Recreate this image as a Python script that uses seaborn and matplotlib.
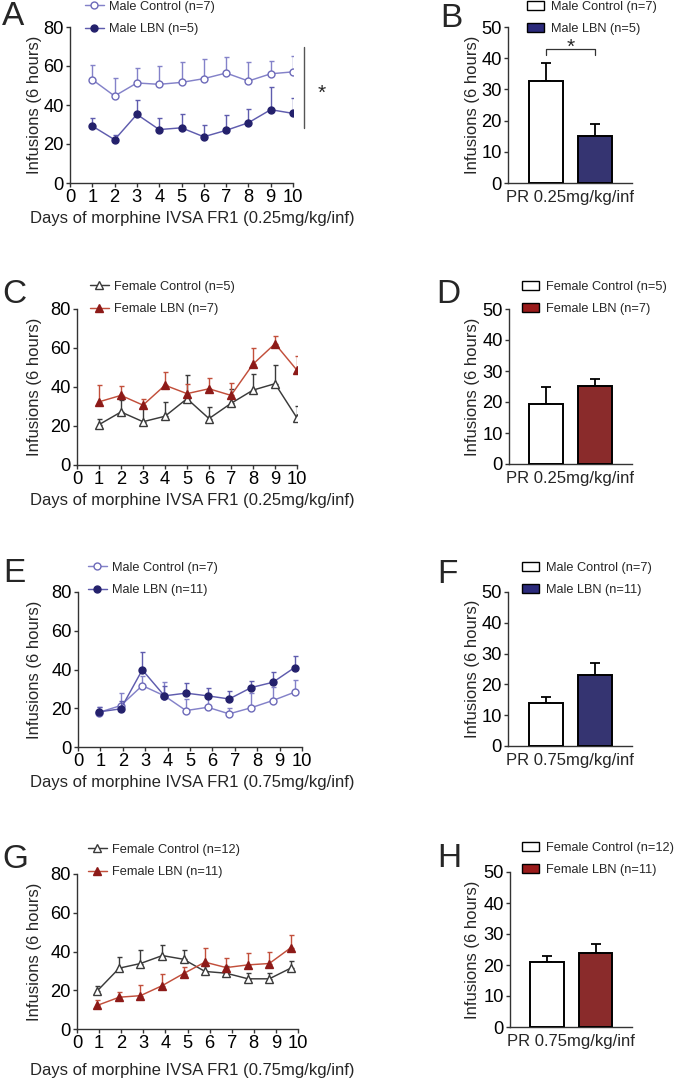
import numpy as np
import pandas as pd
import matplotlib
matplotlib.use("Agg")
import matplotlib.pyplot as plt
import seaborn as sns
from matplotlib.lines import Line2D
from matplotlib.patches import Patch

# ---------------- data ----------------
days = [1, 2, 3, 4, 5, 6, 7, 8, 9, 10]
days_shift = [0.92, 1.91, 2.87, 3.86, 4.82, 5.79, 6.75, 7.74, 8.70, 9.67]
day_ticks = [0, 1, 2, 3, 4, 5, 6, 7, 8, 9, 10]

a_ctrl = [53.0, 44.6, 51.3, 50.6, 51.6, 53.5, 56.4, 52.3, 56.0, 57.0]
a_ctrl_sem = [7.5, 9.0, 7.7, 9.4, 10.2, 10.0, 8.2, 10.0, 6.4, 8.0]
a_lbn = [29.2, 22.2, 35.2, 27.4, 28.3, 23.7, 27.0, 30.9, 37.6, 35.7]
a_lbn_sem = [4.3, 2.4, 7.5, 5.8, 7.1, 5.9, 7.7, 7.1, 11.6, 8.1]

c_ctrl = [20.7, 27.2, 22.2, 25.0, 34.0, 23.8, 31.6, 38.4, 41.7, 24.1]
c_ctrl_sem = [2.9, 6.1, 7.5, 7.2, 12.2, 6.0, 7.5, 8.5, 9.7, 6.1]
c_lbn = [32.4, 35.7, 30.7, 40.9, 36.6, 39.1, 35.7, 51.7, 62.2, 48.6]
c_lbn_sem = [8.5, 4.8, 3.3, 6.9, 5.1, 5.7, 6.5, 8.5, 3.9, 7.4]

e_ctrl = [17.8, 21.4, 31.7, 26.4, 18.8, 20.5, 17.1, 20.3, 24.0, 28.3]
e_ctrl_sem = [3.1, 6.4, 5.0, 6.9, 6.0, 5.5, 2.9, 7.8, 7.0, 6.4]
e_lbn = [18.1, 19.7, 39.8, 26.4, 27.8, 26.4, 24.8, 30.7, 33.4, 41.0]
e_lbn_sem = [2.8, 4.3, 9.0, 5.2, 5.1, 4.3, 4.3, 3.6, 5.2, 6.2]

g_ctrl = [19.7, 31.4, 33.8, 37.9, 36.0, 29.7, 28.8, 25.9, 25.9, 31.4]
g_ctrl_sem = [2.7, 6.0, 7.2, 5.4, 4.7, 3.0, 3.6, 3.1, 2.9, 3.9]
g_lbn = [12.2, 16.4, 17.2, 22.4, 28.6, 34.5, 31.7, 33.1, 33.8, 41.9]
g_lbn_sem = [2.8, 2.9, 5.6, 6.2, 3.5, 7.4, 5.2, 6.0, 5.7, 6.5]

b_vals = [32.8, 15.2]
b_sem = [5.7, 3.8]
d_vals = [19.5, 25.2]
d_sem = [5.2, 2.2]
f_vals = [14.0, 23.1]
f_sem = [2.0, 3.8]
h_vals = [20.9, 24.0]
h_sem = [1.9, 2.7]

male_labels_1 = ["Male Control (n=7)", "Male LBN (n=5)"]
female_labels_1 = ["Female Control (n=5)", "Female LBN (n=7)"]
male_labels_2 = ["Male Control (n=7)", "Male LBN (n=11)"]
female_labels_2 = ["Female Control (n=12)", "Female LBN (n=11)"]
xlabel_025 = "Days of morphine IVSA FR1 (0.25mg/kg/inf)"
xlabel_075 = "Days of morphine IVSA FR1 (0.75mg/kg/inf)"
bar_xlabel_025 = "PR 0.25mg/kg/inf"
bar_xlabel_075 = "PR 0.75mg/kg/inf"
ylabel = "Infusions (6 hours)"

# ---------------- style ----------------
sns.set_style("ticks")
plt.rcParams["font.family"] = ["Liberation Sans", "DejaVu Sans"]
plt.rcParams["axes.linewidth"] = 1.0
plt.rcParams["axes.edgecolor"] = "#333333"

W, H = 677, 1081
fig = plt.figure(figsize=(W / 100, H / 100), dpi=100)

def rect(left, top, right, bottom):
    return [left / W, 1 - bottom / H, (right - left) / W, (bottom - top) / H]

TICK_FS = 13.2
LAB_FS = 12
LEG_FS = 9.2

MALE = dict(ctrl_line="#8482c9", ctrl_face="white", ctrl_edge="#6d6ab9",
            lbn_line="#5f5cae", lbn_face="#24216c", lbn_edge="#24216c", marker="o",
            bar="#2b2a7b")
FEMALE = dict(ctrl_line="#3a3a3a", ctrl_face="white", ctrl_edge="#3a3a3a",
              lbn_line="#c24f3b", lbn_face="#8d1a18", lbn_edge="#8d1a18", marker="^",
              bar="#9a1b1b")


def line_panel(ax, x, ctrl, ctrl_sem, lbn, lbn_sem, pal, xlabel, box, xl_off):
    ms = 5.0 if pal["marker"] == "o" else 5.4
    for vals, sem, lc, fc, ec, z in [
        (ctrl, ctrl_sem, pal["ctrl_line"], pal["ctrl_face"], pal["ctrl_edge"], 3),
        (lbn, lbn_sem, pal["lbn_line"], pal["lbn_face"], pal["lbn_edge"], 4),
    ]:
        ax.errorbar(x, vals, yerr=[np.zeros(len(sem)), sem], fmt="none",
                    ecolor=lc, elinewidth=1.0, capsize=1.8, capthick=1.0, zorder=z - 1)
        sns.lineplot(x=x, y=vals, ax=ax, color=lc, marker=pal["marker"], markersize=ms,
                     markerfacecolor=fc, markeredgecolor=ec, markeredgewidth=1.0,
                     linewidth=1.05, errorbar=None, sort=False, zorder=z)
    ax.set_xlim(0, 10)
    ax.set_ylim(0, 80)
    ax.set_xticks(day_ticks)
    ax.set_yticks([0, 20, 40, 60, 80])
    ax.tick_params(labelsize=TICK_FS, length=3, width=1.0, pad=1.5, colors="#333333",
                   labelcolor="black")
    left, top, right, bottom = box
    ax.set_ylabel(ylabel, fontsize=LAB_FS)
    ax.yaxis.set_label_coords((42 - left) / (right - left), 0.5)
    ax.set_xlabel(xlabel, fontsize=LAB_FS, va="center")
    ax.xaxis.set_label_coords((192 - left) / (right - left), -xl_off / (bottom - top))
    sns.despine(ax=ax)


def bar_panel(ax, vals, sem, pal, box, xlabel):
    cats = ["Control", "LBN"]
    df = pd.DataFrame({"group": cats, "value": vals})
    sns.barplot(data=df, x="group", y="value", hue="group", palette=["white", pal["bar"]],
                edgecolor="black", linewidth=1.4, width=0.69, ax=ax, legend=False,
                errorbar=None, zorder=3)
    ax.errorbar([0, 1], vals, yerr=[[0, 0], sem], fmt="none", ecolor="black",
                elinewidth=1.3, capsize=3.6, capthick=1.3, zorder=2)
    ax.set_xlim(-0.76, 1.75)
    ax.set_ylim(0, 50)
    ax.set_yticks([0, 10, 20, 30, 40, 50])
    ax.set_xticks([])
    ax.tick_params(labelsize=TICK_FS, length=3, width=1.0, pad=1.5, colors="#333333",
                   labelcolor="black")
    left, top, right, bottom = box
    ax.set_ylabel(ylabel, fontsize=LAB_FS)
    ax.yaxis.set_label_coords((480 - left) / (right - left), 0.5)
    ax.set_xlabel(xlabel, fontsize=LAB_FS, va="center")
    ax.xaxis.set_label_coords(0.5, -14.5 / (bottom - top))
    sns.despine(ax=ax)


def line_legend(ax, labels, pal, x_px, y_px):
    ms = 5.0 if pal["marker"] == "o" else 5.4
    handles = [
        Line2D([0], [0], color=pal["ctrl_line"], marker=pal["marker"], markersize=ms,
               markerfacecolor=pal["ctrl_face"], markeredgecolor=pal["ctrl_edge"], lw=1.05),
        Line2D([0], [0], color=pal["lbn_line"], marker=pal["marker"], markersize=ms,
               markerfacecolor=pal["lbn_face"], markeredgecolor=pal["lbn_edge"], lw=1.05),
    ]
    ax.legend(handles, labels, loc="center left", bbox_to_anchor=(x_px / W, 1 - y_px / H),
              bbox_transform=fig.transFigure, frameon=False, fontsize=LEG_FS,
              handlelength=1.45, handletextpad=0.45, labelspacing=0.8,
              borderpad=0, borderaxespad=0)


def bar_legend(ax, labels, pal, x_px, y_px):
    handles = [Patch(facecolor="white", edgecolor="black", lw=1.0),
               Patch(facecolor=pal["bar"], edgecolor="black", lw=1.0)]
    ax.legend(handles, labels, loc="center left", bbox_to_anchor=(x_px / W, 1 - y_px / H),
              bbox_transform=fig.transFigure, frameon=False, fontsize=LEG_FS,
              handlelength=1.3, handleheight=0.7, handletextpad=0.55, labelspacing=0.8,
              borderpad=0, borderaxespad=0)


# rows
line_rects = [(70, 27, 293, 183), (77, 309, 297, 465), (78, 592, 302, 747), (77, 874, 298, 1029)]
bar_rects = [(508, 27, 632, 183), (509, 309, 632, 464), (508, 592, 632, 746), (510, 872, 632, 1027)]
xlabel_offsets = [35, 36, 36, 41]

rows = [
    (days, a_ctrl, a_ctrl_sem, a_lbn, a_lbn_sem, MALE, xlabel_025, male_labels_1, b_vals, b_sem, bar_xlabel_025),
    (days, c_ctrl, c_ctrl_sem, c_lbn, c_lbn_sem, FEMALE, xlabel_025, female_labels_1, d_vals, d_sem, bar_xlabel_025),
    (days_shift, e_ctrl, e_ctrl_sem, e_lbn, e_lbn_sem, MALE, xlabel_075, male_labels_2, f_vals, f_sem, bar_xlabel_075),
    (days_shift, g_ctrl, g_ctrl_sem, g_lbn, g_lbn_sem, FEMALE, xlabel_075, female_labels_2, h_vals, h_sem, bar_xlabel_075),
]
legend_line_pos = [(85, 18), (90, 298), (88, 579), (88, 861)]
legend_bar_pos = [(527, 18), (522, 298), (522, 579), (522, 859)]
letters = [("A", "B"), ("C", "D"), ("E", "F"), ("G", "H")]
letter_pos = [((2, 1), (440, 3)), ((2, 279), (436, 279)), ((3, 558), (437, 559)), ((2, 844), (437, 843))]

bar_axes = []
line_axes = []
for i, (x, c, cs, l, ls, pal, xl, labs, bv, bs, bxl) in enumerate(rows):
    axl = fig.add_axes(rect(*line_rects[i]))
    line_panel(axl, x, c, cs, l, ls, pal, xl, line_rects[i], xlabel_offsets[i])
    line_legend(axl, labs, pal, *legend_line_pos[i])
    axb = fig.add_axes(rect(*bar_rects[i]))
    bar_panel(axb, bv, bs, pal, bar_rects[i], bxl)
    bar_legend(axb, labs, pal, *legend_bar_pos[i])
    line_axes.append(axl)
    bar_axes.append(axb)
    (lx, ly), (rx, ry) = letter_pos[i]
    fig.text(lx / W, 1 - ly / H, letters[i][0], fontsize=24, ha="left", va="top")
    fig.text(rx / W, 1 - ry / H, letters[i][1], fontsize=24, ha="left", va="top")

# significance marks
axA = line_axes[0]
axA.plot([10.5, 10.5], [28, 70], color="#555555", lw=1.0, clip_on=False)
axA.text(11.3, 46.0, "*", fontsize=15, ha="center", va="center", clip_on=False)

axB = bar_axes[0]
axB.plot([0, 0, 1, 1], [41, 43, 43, 41], color="#333333", lw=0.9)
axB.text(0.5, 43.5, "*", fontsize=15, ha="center", va="center")

fig.savefig("out.png", dpi=100)
